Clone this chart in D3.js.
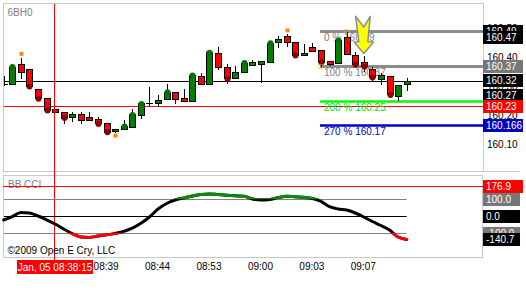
<!DOCTYPE html>
<html>
<head>
<meta charset="utf-8">
<script src="https://cdn.jsdelivr.net/npm/d3@7"></script>
<style>
  body { margin: 0; background: #fff; }
  svg { display: block; font-family: "Liberation Sans", Arial, sans-serif; }
</style>
</head>
<body>
<svg id="chart" width="526" height="288"></svg>
<script>
// Data
const symbol = "6BH0";
const opens  = [160.307,160.306,160.375,160.358,160.289,160.258,160.220,160.209,160.192,160.202,160.192,160.185,160.172,160.144,160.151,160.160,160.200,160.240,160.240,160.256,160.279,160.259,160.249,160.336,160.306,160.413,160.364,160.326,160.347,160.372,160.376,160.384,160.453,160.472,160.453,160.407,160.436,160.424,160.386,160.380,160.469,160.407,160.384,160.359,160.324,160.334,160.267,160.307];
const highs  = [160.334,160.371,160.397,160.358,160.289,160.258,160.220,160.210,160.211,160.210,160.210,160.194,160.172,160.152,160.183,160.220,160.243,160.298,160.269,160.307,160.279,160.290,160.340,160.346,160.419,160.433,160.377,160.369,160.384,160.388,160.387,160.455,160.472,160.478,160.453,160.445,160.447,160.424,160.386,160.464,160.485,160.417,160.403,160.366,160.344,160.334,160.303,160.328];
const lows   = [160.305,160.306,160.328,160.295,160.253,160.212,160.209,160.172,160.180,160.171,160.182,160.169,160.140,160.143,160.151,160.160,160.191,160.231,160.231,160.256,160.240,160.249,160.249,160.306,160.306,160.357,160.309,160.326,160.347,160.372,160.315,160.384,160.436,160.438,160.400,160.407,160.422,160.370,160.372,160.380,160.412,160.372,160.352,160.321,160.306,160.266,160.253,160.286];
const closes = [160.307,160.367,160.349,160.300,160.258,160.217,160.209,160.191,160.202,160.183,160.182,160.171,160.142,160.152,160.162,160.202,160.240,160.240,160.252,160.280,160.256,160.249,160.338,160.306,160.416,160.366,160.326,160.347,160.381,160.384,160.387,160.449,160.461,160.453,160.407,160.415,160.422,160.384,160.375,160.459,160.412,160.375,160.369,160.331,160.338,160.271,160.303,160.317];
const cci = [-24,-4,21,18,0,-23,-48,-78,-105,-126,-128,-120,-113,-104,-92,-73,-44,-6,42,75,96,108,120,129,132,128,124,121,119,102,96,99,110,118,115,112,105,88,56,42,36,18,-6,-33,-57,-84,-126,-140.7];

const upDots = [1,14,15,16,19,22,24,28,31,39];
const downDots = [3,4,5,7,11,12,26,34,37,41,42,43,45];
const swingHighs = [2,33];
const swingLows = [13];

const tickIndex = [12,18,24,30,36,42];
const tickLabels = ["08:39","08:44","08:53","09:00","09:03","09:07"];

const priceTicks = [160.10,160.20,160.30,160.40,160.50];
const tagValues = [160.49,160.47,160.37,160.32,160.27,160.23,160.166];
const tagTexts  = ["160.49","160.47","160.37","160.32","160.27","160.23","160.166"];
const tagColors = ["#000","#000","#777","#000","#000","#f00","#0000c0"];

const fibPrices = [160.49,160.37,160.25,160.166];
const fibLabels = ["0 % 160.49","100 % 160.37","200 % 160.25","270 % 160.17"];
const fibColors = ["#8c8c8c","#8c8c8c","#00ff00","#0000c8"];
const fibText   = ["#808080","#808080","#00e000","#0000c0"];
const fibStart = 37, fibEnd = 40;

const cciLevels = [100,0,-100];
const cciLevelColors = ["#808080","#000","#808080"];
const cciTagValues = [176.9,100,0,-100,-140.7];
const cciTagTexts  = ["176.9","100.0","0.0","-100.0","-140.7"];
const cciTagColors = ["#f00","#777","#000","#777","#000"];

const crossIndex = 5.87, crossPrice = 160.23, crossCci = 176.9;
const crossLabel = "Jan, 05 08:38:15";
const arrowIndex = 42;
const copyright = "\u00A92009 Open E Cry, LLC";

// Scales
const x = d3.scaleLinear().domain([0, 47]).range([3.7, 406.7]);
const y = d3.scaleLinear().domain([160.10, 160.40]).range([144, 57]);
const yc = d3.scaleLinear().domain([-100, 100]).range([232.7, 199.3]);
const px = v => Math.round(v) + 0.5;

const svg = d3.select("#chart");
const defs = svg.append("defs");
defs.append("clipPath").attr("id", "price-clip")
	.append("rect").attr("x", 4).attr("y", 4).attr("width", 479).attr("height", 167);
defs.append("clipPath").attr("id", "cci-up")
	.append("rect").attr("x", 0).attr("y", 0).attr("width", 526).attr("height", yc(100));
defs.append("clipPath").attr("id", "cci-down")
	.append("rect").attr("x", 0).attr("y", yc(-100)).attr("width", 526).attr("height", 100);

// Frames
svg.append("rect").attr("x", 3.5).attr("y", 3.5).attr("width", 480).attr("height", 168)
	.style("fill", "none").style("stroke", "#c8c8c8");
svg.append("rect").attr("x", 3.5).attr("y", 175.5).attr("width", 479).attr("height", 82)
	.style("fill", "none").style("stroke", "#c8c8c8");
svg.append("line").attr("x1", 3).attr("x2", 520).attr("y1", 171.5).attr("y2", 171.5)
	.style("stroke", "#c8c8c8");

svg.append("text").attr("x", 7.5).attr("y", 15.5).text(symbol)
	.style("font-size", "10px").style("fill", "#808080");

const price = svg.append("g").attr("clip-path", "url(#price-clip)");

// Last price line + crosshair
price.append("line").attr("x1", 3).attr("x2", 483)
	.attr("y1", px(y(closes[closes.length - 1]))).attr("y2", px(y(closes[closes.length - 1])))
	.style("stroke", "#000");
price.append("line").attr("x1", 3).attr("x2", 483)
	.attr("y1", px(y(crossPrice))).attr("y2", px(y(crossPrice)))
	.style("stroke", "#f00");

// Fib lines
const fibX = Math.round(x(fibStart)) - 1;
price.selectAll(".fib").data(fibPrices).join("line")
	.attr("x1", fibX).attr("x2", 483)
	.attr("y1", d => Math.round(y(d)) + 0.5).attr("y2", d => Math.round(y(d)) + 0.5)
	.style("stroke", (d, i) => fibColors[i])
	.style("stroke-width", (d, i) => i < 2 ? 3 : 2.5);
price.selectAll(".fibtxt").data(fibPrices).join("text")
	.attr("x", fibX + 4).attr("y", d => y(d) + 10.5)
	.text((d, i) => fibLabels[i])
	.style("font-size", "10px")
	.style("fill", (d, i) => fibText[i]);

// Candles
const idx = d3.range(opens.length);
price.selectAll(".wick").data(idx).join("line")
	.attr("x1", k => px(x(k))).attr("x2", k => px(x(k)))
	.attr("y1", k => Math.round(y(highs[k]))).attr("y2", k => Math.round(y(lows[k])) + 1)
	.style("stroke", "#000");

price.selectAll(".body").data(idx).join("rect")
	.attr("x", k => Math.round(x(k)) - 2.5)
	.attr("y", k => px(y(Math.max(opens[k], closes[k]))))
	.attr("width", 6)
	.attr("height", k => Math.max(0.01, Math.round(y(Math.min(opens[k], closes[k]))) - Math.round(y(Math.max(opens[k], closes[k])))))
	.style("fill", k => closes[k] >= opens[k] ? "#008000" : "#ff0000")
	.style("stroke", "#000");

// Doji bars
price.selectAll(".doji").data(idx.filter(k => Math.abs(opens[k] - closes[k]) < 0.002)).join("line")
	.attr("x1", k => Math.round(x(k)) - 3).attr("x2", k => Math.round(x(k)) + 4)
	.attr("y1", k => px(y(closes[k]))).attr("y2", k => px(y(closes[k])))
	.style("stroke", "#000");

// Dots
price.selectAll(".updot").data(upDots).join("circle")
	.attr("cx", k => Math.round(x(k)) + 0.5).attr("cy", k => y(closes[k]) + 0.5)
	.attr("r", 3).style("fill", "#0b6e0b");
price.selectAll(".dndot").data(downDots).join("circle")
	.attr("cx", k => Math.round(x(k)) + 0.5).attr("cy", k => y(closes[k]) + 0.5)
	.attr("r", 3).style("fill", "#8e0000");

// Swing markers
price.selectAll(".shigh").data(swingHighs).join("rect")
	.attr("x", k => Math.round(x(k)) - 1.5).attr("y", k => y(highs[k]) - 6)
	.attr("width", 4).attr("height", 4).style("fill", "#ff8c00");
price.selectAll(".slow").data(swingLows).join("rect")
	.attr("x", k => Math.round(x(k)) - 1.5).attr("y", k => y(lows[k]) + 2)
	.attr("width", 4).attr("height", 4).style("fill", "#ff8c00");

// Fib anchors
price.selectAll(".anchor").data([[fibStart, fibPrices[1]], [fibEnd, fibPrices[0]]]).join("rect")
	.attr("x", d => Math.round(x(d[0])) - 2.5).attr("y", d => Math.round(y(d[1])) - 1.5)
	.attr("width", 4).attr("height", 4)
	.style("fill", "none").style("stroke", "#ffa040").style("stroke-dasharray", "1,1");

// Arrow
const ax = x(arrowIndex), ay = y(highs[arrowIndex]) - 2.5;
const arrowPts = [[0,0],[-9.7,-11.7],[-5,-12],[-8.3,-37.3],[0,-26.6],[6.4,-37.3],[4,-12],[9.7,-11.7]];
price.append("path")
	.attr("d", d3.line()(arrowPts.map(p => [ax + p[0], ay + p[1]])) + "Z")
	.style("fill", "#ffff00").style("stroke", "#8c8c8c").style("stroke-width", 1.5)
	.style("stroke-linejoin", "round");

// Crosshair vertical
svg.append("line").attr("x1", px(x(crossIndex))).attr("x2", px(x(crossIndex)))
	.attr("y1", 4).attr("y2", 260).style("stroke", "#f00");

// Price axis
const priceAxis = svg.append("g").attr("transform", "translate(483,0)")
	.call(d3.axisRight(y).tickValues(priceTicks).tickSize(0).tickPadding(4).tickFormat(d3.format(".2f")));
priceAxis.select(".domain").remove();
priceAxis.selectAll("text").attr("font-family", null).style("font-size", "10px").style("fill", "#000");

const tags = svg.append("g");
tags.selectAll("rect").data(tagValues).join("rect")
	.attr("x", 483).attr("y", d => Math.round(y(d)) - 6).attr("width", 40).attr("height", 13)
	.style("fill", (d, i) => tagColors[i]);
tags.selectAll("text").data(tagValues).join("text")
	.attr("x", 486).attr("y", d => Math.round(y(d)) + 4)
	.text((d, i) => tagTexts[i])
	.style("font-size", "10px").style("fill", "#fff");
// draw pairs in order so later tags sit on top
tags.selectAll("rect, text").sort((a, b) => tagValues.indexOf(a) - tagValues.indexOf(b));

// CCI panel
svg.append("text").attr("x", 8).attr("y", 188).text("BB CCI")
	.style("font-size", "10px").style("fill", "#808080");
svg.append("line").attr("x1", 3).attr("x2", 483)
	.attr("y1", px(yc(crossCci))).attr("y2", px(yc(crossCci))).style("stroke", "#f00");
svg.selectAll(".lvl").data(cciLevels).join("line")
	.attr("x1", 4).attr("x2", x(47))
	.attr("y1", d => px(yc(d))).attr("y2", d => px(yc(d)))
	.style("stroke", (d, i) => cciLevelColors[i]);

const cciLine = d3.line().x((d, k) => x(k)).y(d => yc(d)).curve(d3.curveMonotoneX);
[["#000", null], ["#0a8a0a", "url(#cci-up)"], ["#ff0000", "url(#cci-down)"]].forEach(s => {
	svg.append("path").attr("d", cciLine(cci))
		.attr("clip-path", s[1])
		.style("fill", "none").style("stroke", s[0]).style("stroke-width", 3)
		.style("stroke-linecap", "round");
});

const ctags = svg.append("g");
cciTagValues.forEach((v, i) => {
	ctags.append("rect").attr("x", 483).attr("y", Math.round(yc(v)) - 6)
		.attr("width", i === 0 ? 40 : 37).attr("height", 13).style("fill", cciTagColors[i]);
	ctags.append("text").attr("x", 486).attr("y", Math.round(yc(v)) + 4).text(cciTagTexts[i])
		.style("font-size", "10px").style("fill", "#fff");
});

svg.append("text").attr("x", 7.5).attr("y", 253.5).text(copyright)
	.style("font-size", "10px").style("fill", "#000");

// Time axis
const timeAxis = svg.append("g").attr("transform", "translate(-1,259)")
	.call(d3.axisBottom(x).tickValues(tickIndex).tickSize(0).tickPadding(4).tickFormat((d, i) => tickLabels[i]));
timeAxis.select(".domain").remove();
timeAxis.selectAll("text").attr("font-family", null).style("font-size", "10px").style("fill", "#000");

const cx = x(crossIndex);
svg.append("rect").attr("x", Math.round(cx) - 37).attr("y", 260).attr("width", 76).attr("height", 14)
	.style("fill", "#f00");
svg.append("text").attr("x", cx + 1).attr("y", 271).attr("text-anchor", "middle").text(crossLabel)
	.style("font-size", "10px").style("fill", "#fff");
</script>
</body>
</html>
